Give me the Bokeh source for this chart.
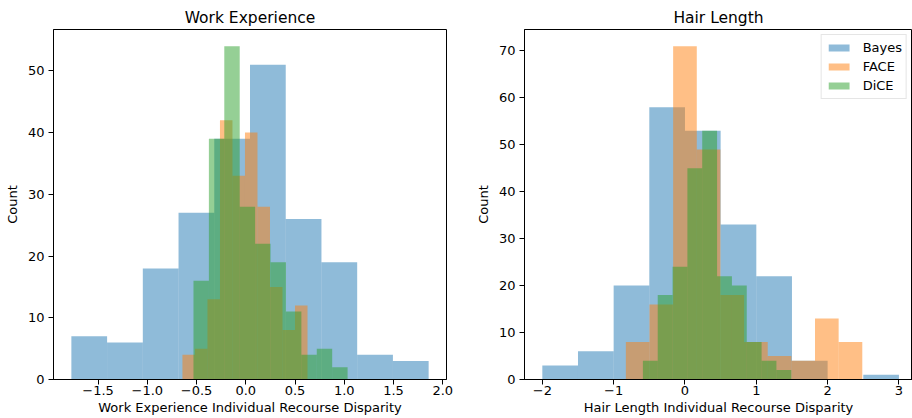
import numpy as np
from bokeh.plotting import figure
from bokeh.layouts import row
from bokeh.models import (FixedTicker, CustomJSTickFormatter, Legend, LegendItem,
                          Range1d)
from bokeh.embed import file_html
from bokeh.resources import INLINE

methods = ["Bayes", "FACE", "DiCE"]
colors = ["#1f77b4", "#ff7f0e", "#2ca02c"]

# Work Experience histograms (10 bins each)
work_bayes_counts = [7, 6, 18, 27, 39, 51, 26, 19, 4, 3]
work_face_counts = [4, 5, 13, 42, 33, 40, 28, 15, 8, 12]
work_dice_counts = [16, 39, 54, 28, 22, 19, 11, 4, 5, 2]
work_bayes_range = [-1.771, 1.857]
work_face_range = [-0.643, 0.627]
work_dice_range = [-0.531, 1.034]

# Hair Length histograms (10 bins each)
hair_bayes_counts = [3, 6, 20, 58, 53, 33, 22, 4, 0, 1]
hair_face_counts = [8, 16, 71, 49, 18, 8, 5, 4, 13, 8]
hair_dice_counts = [4, 18, 24, 45, 53, 22, 20, 8, 4, 2]
hair_bayes_range = [-2.0, 3.0]
hair_face_range = [-0.829, 2.486]
hair_dice_range = [-0.59, 1.49]

work_xticks = [-1.5, -1.0, -0.5, 0.0, 0.5, 1.0, 1.5, 2.0]
work_yticks = [0, 10, 20, 30, 40, 50]
hair_xticks = [-2, -1, 0, 1, 2, 3]
hair_yticks = [0, 10, 20, 30, 40, 50, 60, 70]

FONT = "DejaVu Sans"


def style(p, xticks, yticks, decimals, xlabel):
    p.xgrid.visible = False
    p.ygrid.visible = False
    p.outline_line_color = "black"
    p.outline_line_width = 1
    p.outline_line_alpha = 1
    p.title.text_font = FONT
    p.title.text_font_size = "15.5px"
    p.title.text_font_style = "normal"
    p.title.text_color = "black"
    p.title.align = "center"
    p.title.standoff = 5
    p.xaxis.axis_label = xlabel
    p.yaxis.axis_label = "Count"
    for ax in (p.xaxis[0], p.yaxis[0]):
        ax.axis_label_text_font = FONT
        ax.axis_label_text_font_size = "13px"
        ax.axis_label_text_font_style = "normal"
        ax.axis_label_text_color = "black"
        ax.major_label_text_font = FONT
        ax.major_label_text_font_size = "13px"
        ax.major_label_text_color = "black"
        ax.axis_line_color = "black"
        ax.major_tick_line_color = "black"
        ax.major_tick_out = 5
        ax.major_tick_in = 0
        ax.minor_tick_line_color = None
    p.xaxis.major_label_standoff = 1
    p.xaxis.axis_label_standoff = 2
    p.yaxis.major_label_standoff = 4
    p.yaxis.axis_label_standoff = 5
    p.xaxis.ticker = FixedTicker(ticks=xticks)
    p.yaxis.ticker = FixedTicker(ticks=yticks)
    p.xaxis.formatter = CustomJSTickFormatter(
        code="return tick.toFixed(%d).replace('-', '\\u2212');" % decimals)


def draw_hists(p, ranges, counts):
    rends = []
    for (lo, hi), cnt, col in zip(ranges, counts, colors):
        edges = np.linspace(lo, hi, len(cnt) + 1)
        r = p.quad(left=edges[:-1], right=edges[1:], bottom=0, top=cnt,
                   fill_color=col, fill_alpha=0.5, line_color=None)
        rends.append(r)
    return rends


# ---- Left: Work Experience ----
w_lo = min(work_bayes_range[0], work_face_range[0], work_dice_range[0])
w_hi = max(work_bayes_range[1], work_face_range[1], work_dice_range[1])
w_pad = 0.05 * (w_hi - w_lo)
w_ymax = 1.05 * max(max(work_bayes_counts), max(work_face_counts), max(work_dice_counts))

p1 = figure(width=470, height=418, output_backend="svg", toolbar_location=None,
            title="Work Experience",
            x_range=Range1d(w_lo - w_pad, w_hi + w_pad), y_range=Range1d(0, w_ymax),
            min_border_left=53, min_border_right=24, min_border_top=29,
            min_border_bottom=39)
draw_hists(p1, [work_bayes_range, work_face_range, work_dice_range],
           [work_bayes_counts, work_face_counts, work_dice_counts])
style(p1, work_xticks, work_yticks, 1, "Work Experience Individual Recourse Disparity")

# ---- Right: Hair Length ----
h_lo = min(hair_bayes_range[0], hair_face_range[0], hair_dice_range[0])
h_hi = max(hair_bayes_range[1], hair_face_range[1], hair_dice_range[1])
h_pad = 0.05 * (h_hi - h_lo)
h_ymax = 1.05 * max(max(hair_bayes_counts), max(hair_face_counts), max(hair_dice_counts))

p2 = figure(width=442, height=418, output_backend="svg", toolbar_location=None,
            title="Hair Length",
            x_range=Range1d(h_lo - h_pad, 3.19), y_range=Range1d(0, h_ymax),
            min_border_left=54, min_border_right=0, min_border_top=29,
            min_border_bottom=39)
rends = draw_hists(p2, [hair_bayes_range, hair_face_range, hair_dice_range],
                   [hair_bayes_counts, hair_face_counts, hair_dice_counts])
style(p2, hair_xticks, hair_yticks, 0, "Hair Length Individual Recourse Disparity")

legend = Legend(items=[LegendItem(label=m, renderers=[r]) for m, r in zip(methods, rends)],
                location="top_right")
legend.margin = 5
legend.padding = 4
legend.spacing = 2
legend.label_height = 17
legend.glyph_width = 26
legend.glyph_height = 9
legend.label_standoff = 11
legend.label_text_font = FONT
legend.label_text_font_size = "13px"
legend.label_text_color = "black"
legend.border_line_color = "#cccccc"
legend.border_line_width = 1
legend.background_fill_alpha = 0.8
p2.add_layout(legend)

layout = row(p1, p2)

with open("out.html", "w", encoding="utf-8") as f:
    f.write(file_html(layout, INLINE))
